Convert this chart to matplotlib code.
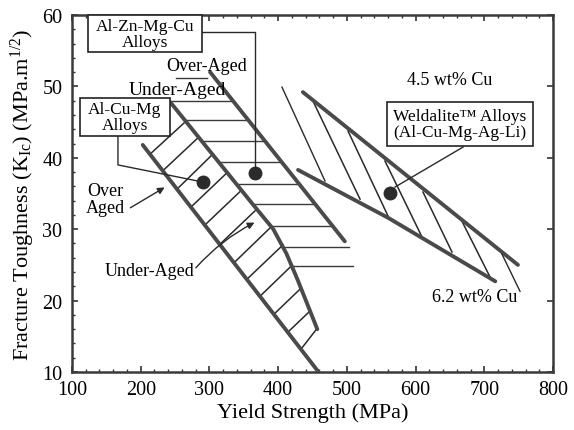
# Fracture toughness vs yield strength for Al alloys (redrawn from scan)
import numpy as np
import matplotlib.pyplot as plt
from matplotlib.patches import Rectangle

plt.rcParams['font.family'] = ['Liberation Serif', 'DejaVu Serif']
plt.rcParams['mathtext.fontset'] = 'custom'
plt.rcParams['mathtext.rm'] = 'Liberation Serif'
plt.rcParams['mathtext.it'] = 'Liberation Serif:italic'

# ---- data (yield strength MPa, K_Ic MPa.m^1/2) ----
# Al-Cu-Mg band
acm_left_x = [203, 458]
acm_left_y = [41.8, 10.1]
acm_right_x = [243, 363, 393, 412, 428, 457]
acm_right_y = [47.8, 33.5, 30.0, 26.6, 23.0, 16.0]
acm_hatch_x0 = [213.5, 232.4, 252.8, 273.2, 293.6, 315.4, 335.8, 354.7, 373.6, 394.0, 414.4, 433.3]
acm_hatch_y0 = [40.5, 38.2, 35.6, 33.1, 30.6, 27.9, 25.3, 23.0, 20.6, 18.1, 15.6, 13.2]
acm_hatch_x1 = [264.5, 283.4, 303.8, 325.6, 346.0, 367.8, 389.6, 407.1, 418.7, 431.8, 444.9, 455.1]
acm_hatch_y1 = [45.0, 42.8, 40.4, 37.9, 35.4, 32.7, 30.3, 27.8, 24.8, 21.6, 18.4, 15.9]

# Al-Zn-Mg-Cu band
azm_over_x = [301, 497]
azm_over_y = [52.0, 28.3]
azm_hatch_y = [51.2, 47.95, 45.3, 42.35, 39.4, 36.3, 33.5, 30.4, 27.5, 24.8]
azm_hatch_x0 = [251.4, 242.6, 263.0, 290.7, 316.9, 341.6, 363.4, 391.1, 408.6, 420.2]
azm_hatch_x1 = [296.0, 334.5, 356.7, 381.2, 405.6, 431.2, 454.5, 480.1, 503.1, 508.9]

# Weldalite band
wel_upper_x = [436, 749]
wel_upper_y = [49.2, 25.0]
wel_lower_x = [429, 560, 716]
wel_lower_y = [38.3, 31.6, 22.7]
wel_hatch_x0 = [450.7, 501.7, 555.5, 610.8, 667.6]
wel_hatch_y0 = [47.95, 43.75, 39.55, 35.2, 31.1]
wel_hatch_x1 = [519.2, 559.9, 609.4, 653.0, 708.4]
wel_hatch_y1 = [34.2, 31.85, 28.9, 26.8, 23.3]

# average points
dot_x = [290.7, 366.3, 562.8]
dot_y = [36.6, 37.9, 35.1]

fig = plt.figure(figsize=(5.74, 4.31), dpi=100)
ax = fig.add_axes([0.1254, 0.1346, 0.838, 0.8283])

band = dict(color='#4a4a4a', lw=2.8, solid_capstyle='round', solid_joinstyle='round', zorder=3)
hatch = dict(color='#2a2a2a', lw=1.1, zorder=2)

# Al-Cu-Mg
ax.plot(acm_left_x, acm_left_y, **band)
ax.plot(acm_right_x, acm_right_y, **band)
for i in range(len(acm_hatch_x0)):
    ax.plot([acm_hatch_x0[i], acm_hatch_x1[i]], [acm_hatch_y0[i], acm_hatch_y1[i]], **hatch)

# Al-Zn-Mg-Cu
ax.plot(azm_over_x, azm_over_y, **band)
for i in range(len(azm_hatch_y)):
    ax.plot([azm_hatch_x0[i], azm_hatch_x1[i]], [azm_hatch_y[i], azm_hatch_y[i]],
            color='#3a3a3a', lw=1.0, zorder=2)

# Weldalite
ax.plot(wel_upper_x, wel_upper_y, **band)
ax.plot(wel_lower_x, wel_lower_y, **band)
for i in range(len(wel_hatch_x0)):
    ax.plot([wel_hatch_x0[i], wel_hatch_x1[i]], [wel_hatch_y0[i], wel_hatch_y1[i]], **hatch)

ax.plot(dot_x, dot_y, 'o', color='#2b2b2b', ms=9, zorder=5)

# leaders
lead = dict(color='#2a2a2a', lw=1.0, zorder=4)
ax.plot([289.2, 366.3, 366.3], [57.6, 57.6, 38.0], **lead)
ax.plot([166.9, 166.9, 290.7], [43.05, 39.0, 36.6], **lead)
ax.plot([669.1, 570.1], [41.5, 35.9], **lead)
ax.plot([405.6, 468.2], [49.9, 36.75], **lead)
ax.plot([725.8, 752.0], [26.5, 21.3], **lead)

# boxes
boxes = [(123.3, 54.8, 165.9, 5.2, 'Al-Zn-Mg-Cu\nAlloys', 206.2, 57.4),
         (111.6, 43.05, 131.0, 5.35, 'Al-Cu-Mg\nAlloys', 177.1, 45.7),
         (558.4, 41.65, 212.5, 6.15, 'Weldalite\u2122 Alloys\n(Al-Cu-Mg-Ag-Li)', 664.7, 44.7)]
for bx, by, bw, bh, txt, tx, ty in boxes:
    ax.add_patch(Rectangle((bx, by), bw, bh, facecolor='white', edgecolor='#222222',
                           lw=1.2, zorder=6, clip_on=False))
    ax.text(tx, ty, txt, ha='center', va='center', fontsize=12.5, zorder=7,
            linespacing=1.0)

fs = 13
ax.text(296.5, 52.9, 'Over-Aged', ha='center', va='center', fontsize=fs)
ax.text(252.8, 49.6, 'Under-Aged', ha='center', va='center', fontsize=14)
ax.text(148, 34.2, 'Over\nAged', ha='center', va='center', fontsize=fs, linespacing=1.0)
ax.text(212.3, 24.2, 'Under-Aged', ha='center', va='center', fontsize=fs)
ax.text(650.1, 51.0, '4.5 wt% Cu', ha='center', va='center', fontsize=fs)
ax.text(686.5, 20.6, '6.2 wt% Cu', ha='center', va='center', fontsize=fs)

ax.annotate('', xy=(238.3, 36.05), xytext=(181.5, 32.8),
            arrowprops=dict(arrowstyle='-|>', color='#2a2a2a', lw=1.0, mutation_scale=10))
ax.annotate('', xy=(369.2, 31.1), xytext=(277.6, 24.3),
            arrowprops=dict(arrowstyle='-|>', color='#2a2a2a', lw=1.0, mutation_scale=10,
                            connectionstyle='arc3,rad=-0.1'))

ax.set_xlim(100, 800)
ax.set_ylim(10, 60)
ax.set_xticks(np.arange(100, 801, 100))
ax.set_yticks(np.arange(10, 61, 10))
ax.set_xticks(np.arange(100, 801, 20), minor=True)
ax.set_yticks(np.arange(10, 61, 2), minor=True)
ax.tick_params(which='both', direction='in', top=True, right=True, labelsize=14.5,
               color='#333333')
ax.tick_params(which='major', length=4, width=1.2)
ax.tick_params(which='minor', length=2.5, width=1.0, right=False)
ax.tick_params(axis='x', pad=6)
ax.tick_params(axis='y', pad=7)
for s in ax.spines.values():
    s.set_linewidth(1.8)
    s.set_color('#3a3a3a')

ax.set_xlabel('Yield Strength (MPa)', fontsize=16, labelpad=2)
ax.set_ylabel(r'Fracture Toughness (K$_{\mathrm{Ic}}$) (MPa.m$^{1/2}$)', fontsize=16, labelpad=4)

fig.savefig('out.png', dpi=100)
